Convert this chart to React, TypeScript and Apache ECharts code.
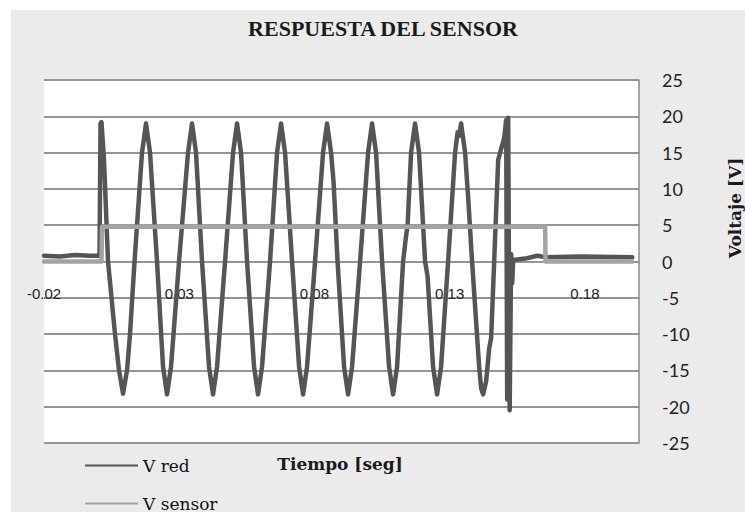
import React, { useEffect, useRef } from "react";
import * as echarts from "echarts";

// V red: time (s) and voltage (V)
const redTime = [
  -0.02, -0.01408, -0.00854, -0.00299, 0.00053, 0.0009, 0.00126, 0.00219, 0.00367, 0.00626,
  0.00774, 0.00922, 0.0107, 0.0118, 0.01347, 0.01624, 0.01772,
  0.0192, 0.02179, 0.02401, 0.02549, 0.02697, 0.02993, 0.03325, 0.03473,
  0.03621, 0.03843, 0.04102, 0.0425, 0.04398, 0.04694, 0.0499, 0.05138,
  0.05286, 0.05508, 0.05767, 0.05914, 0.06062, 0.06358, 0.06617, 0.06765,
  0.06913, 0.07172, 0.07432, 0.0758, 0.07726, 0.08022, 0.08318, 0.08466,
  0.08614, 0.08706, 0.08854, 0.09095, 0.09243, 0.09391, 0.09687, 0.09983, 0.1013,
  0.10278, 0.105, 0.10759, 0.10907, 0.11055, 0.11277, 0.11388, 0.11443, 0.11573, 0.1172,
  0.11868, 0.1209, 0.12182, 0.12386, 0.12534, 0.12682, 0.12941, 0.132, 0.13293, 0.13348, 0.13422,
  0.1357, 0.1368, 0.13828, 0.1409, 0.14164, 0.14238, 0.14349, 0.1446, 0.14534, 0.14645,
  0.14793, 0.14904, 0.15015, 0.15089, 0.15126, 0.15163, 0.15218, 0.15274, 0.15311, 0.15348,
  0.15792, 0.16236, 0.16532, 0.17826, 0.19749,
];
const redVolt = [
  0.8, 0.7, 0.9, 0.8, 0.8, 19.0, 19.2, 14, 0, -10,
  -15, -18.2, -15, -10, 0, 15, 19,
  15, 0, -14.5, -18.3, -14.5, 0, 15, 19,
  15, 0, -14.5, -18.3, -14.5, 0, 15, 19,
  15, 0, -14.5, -18.3, -14.5, 0, 15, 19,
  15, 0, -14.5, -18.3, -14.5, 0, 15, 19,
  15, 11, 0, -14.5, -18.3, -14.5, 0, 15, 19,
  15, 0, -14.5, -18.3, -14.5, 0, 3.5, 5, 15, 19,
  15, 0, -2, -14.5, -18.3, -14.5, 0, 15, 17.8, 17.3, 19,
  15, 9, 0, -14.5, -17.5, -18.3, -16.5, -12, -10.5, 0,
  14, 15.5, 17, 19.5, -19, 19.8, -20.5, 1, -3, 0.2,
  0.4, 0.8, 0.6, 0.7, 0.6,
];

// V sensor: time (s) and voltage (V)
const sensorTime = [-0.02, 0.00126, 0.00145, 0.16528, 0.16545, 0.19749];
const sensorVolt = [0.0, 0.0, 4.8, 4.8, 0.0, 0.0];

const xTickLabels = [-0.02, 0.03, 0.08, 0.13, 0.18];
const seriesNames = ["V red", "V sensor"];

export default function App() {
  const ref = useRef<HTMLDivElement>(null);

  useEffect(() => {
    const chart = echarts.init(ref.current!, null, { renderer: "svg" });
    chart.setOption({
      animation: false,
      grid: {
        left: 44,
        right: 106,
        top: 80,
        bottom: 69,
        show: true,
        backgroundColor: "#ffffff",
        borderWidth: 0,
      },
      graphic: [
        {
          type: "text",
          x: 383,
          y: 28,
          style: {
            text: "RESPUESTA DEL SENSOR",
            fontFamily: "Liberation Serif",
            fontWeight: "bold",
            fontSize: 22,
            fill: "#1a1a1a",
            align: "center",
            verticalAlign: "middle",
          },
        },
        {
          type: "text",
          x: 340,
          y: 464,
          style: {
            text: "Tiempo [seg]",
            fontFamily: "DejaVu Serif",
            fontWeight: "bold",
            fontSize: 17,
            fill: "#1a1a1a",
            align: "center",
            verticalAlign: "middle",
          },
        },
        {
          type: "text",
          x: 735,
          y: 208,
          rotation: Math.PI / 2,
          style: {
            text: "Voltaje [V]",
            fontFamily: "DejaVu Serif",
            fontWeight: "bold",
            fontSize: 17,
            fill: "#1a1a1a",
            align: "center",
            verticalAlign: "middle",
          },
        },
      ],
      legend: {
        data: seriesNames,
        orient: "vertical",
        left: 85,
        top: 457,
        height: 90,
        icon: "rect",
        itemWidth: 53,
        itemHeight: 2,
        itemGap: 21,
        padding: 0,
        textStyle: { fontFamily: "DejaVu Serif", fontSize: 17, color: "#111" },
      },
      xAxis: {
        type: "value",
        min: -0.02,
        max: 0.2,
        interval: 0.05,
        axisLine: { show: false },
        axisTick: { show: false },
        splitLine: { show: false },
        axisLabel: {
          margin: -157,
          fontFamily: "Liberation Sans",
          fontSize: 15,
          color: "#222",
          formatter: (v: number) =>
            xTickLabels.some((t) => Math.abs(t - v) < 1e-6) ? v.toFixed(2) : "",
        },
      },
      yAxis: {
        type: "value",
        position: "right",
        min: -25,
        max: 25,
        interval: 5,
        axisLine: { show: true, onZero: false, lineStyle: { color: "#8a8a8a", width: 1.5 } },
        axisTick: { show: false },
        splitLine: { lineStyle: { color: "#969696", width: 2 } },
        axisLabel: { margin: 23, fontFamily: "Lato", fontSize: 18, color: "#222" },
      },
      series: [
        {
          name: seriesNames[0],
          type: "line",
          symbol: "none",
          color: "#555555",
          lineStyle: { width: 4.5, color: "#555555", cap: "round", join: "round" },
          data: redTime.map((t, i) => [t, redVolt[i]]),
        },
        {
          name: seriesNames[1],
          type: "line",
          symbol: "none",
          color: "#a3a3a3",
          lineStyle: { width: 4.5, color: "#a3a3a3", cap: "round", join: "round" },
          data: sensorTime.map((t, i) => [t, sensorVolt[i]]),
        },
      ],
    });
    return () => chart.dispose();
  }, []);

  return (
    <div style={{ position: "fixed", left: 0, top: 0, width: 745, height: 512, background: "#ffffff" }}>
      <div style={{ position: "absolute", left: 11, top: 10, right: 0, bottom: 0, background: "#ebebeb" }} />
      <div ref={ref} style={{ position: "absolute", left: 0, top: 0, width: 745, height: 512 }} />
    </div>
  );
}
